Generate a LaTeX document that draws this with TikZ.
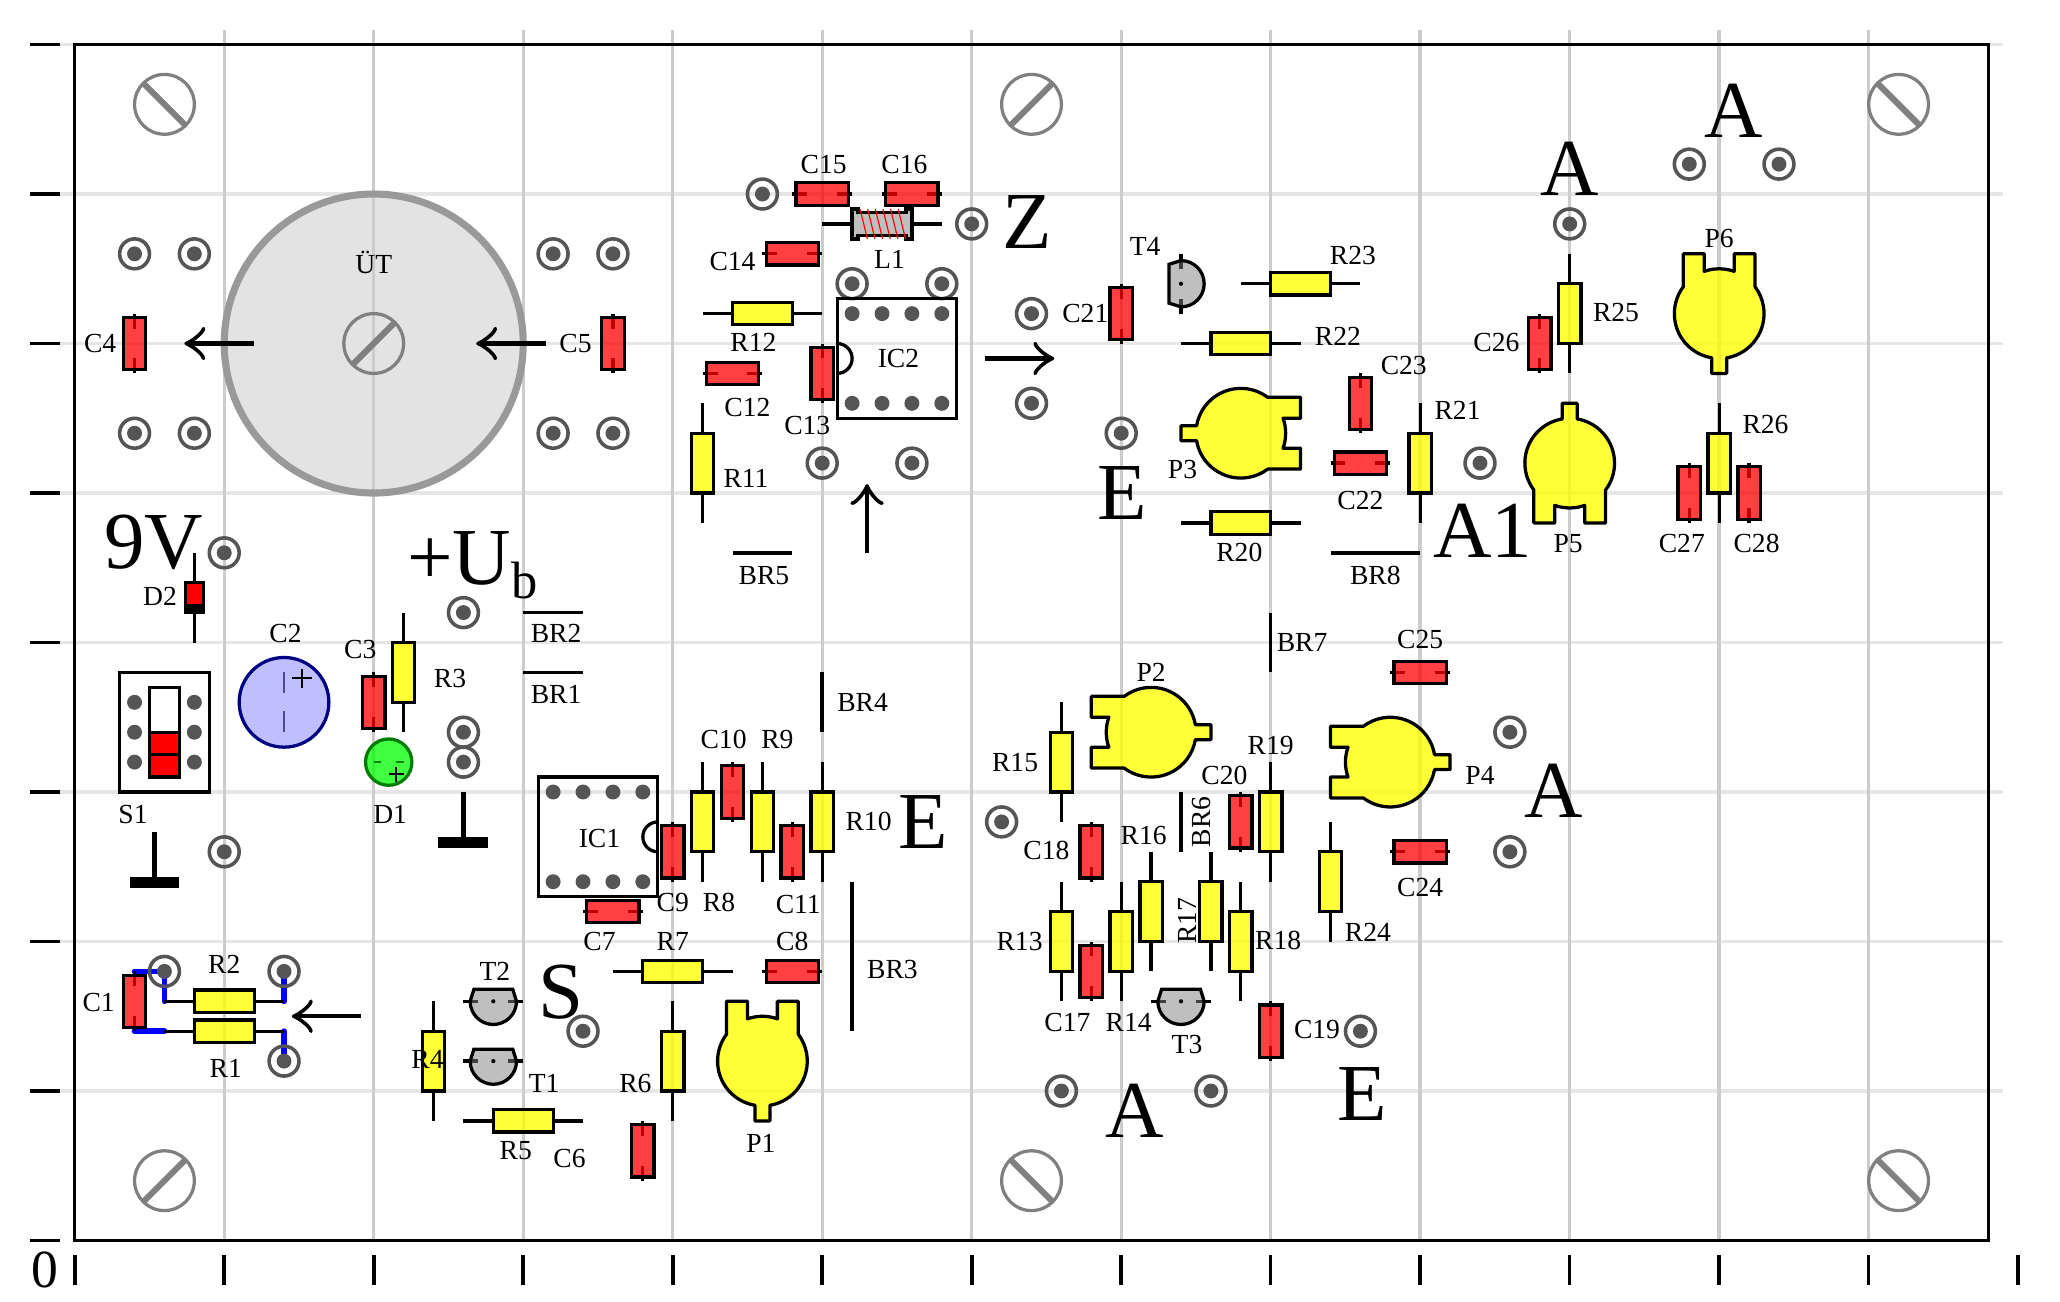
\documentclass[tikz,border=0pt]{standalone}
\usepackage{fontspec}
\setmainfont{Liberation Serif}
\usetikzlibrary{arrows.meta}
\definecolor{gridv}{HTML}{CCCCCC}
\definecolor{gridh}{HTML}{E6E6E6}
\definecolor{holecol}{HTML}{555555}
\definecolor{pureyellow}{RGB}{255,255,0}
\definecolor{purered}{RGB}{255,0,0}
\tikzset{
  wire/.style={line width=.62pt,black},
  bodyline/.style={line width=.62pt,draw=black},
  lab/.style={inner sep=0pt,font=\fontsize{5.25}{6}\selectfont},
  big/.style={inner sep=0pt,font=\fontsize{15.4}{18}\selectfont},
  arrowline/.style={line width=.85pt,-{Classical TikZ Rightarrow[length=4pt,width=6.4pt]}},
  jumper/.style={line width=.68pt,black},
  bluewire/.style={line width=1.1pt,blue,line cap=round},
  groundstem/.style={line width=.95pt,black},
  groundbar/.style={fill=black,draw=none},
  capb/.pic={
    \draw[wire] (-.2,0)--(-.1,0) (.1,0)--(.2,0);
    \path[bodyline,fill=purered,fill opacity=.75] (-.175,-.075) rectangle (.175,.075);
  },
  resb/.pic={
    \draw[wire] (-.4,0)--(-.2,0) (.2,0)--(.4,0);
    \path[bodyline,fill=pureyellow,fill opacity=.78] (-.2,-.075) rectangle (.2,.075);
  },
  holeb/.pic={
    \draw[line width=.68pt,holecol] (0,0) circle (.1);
    \fill[holecol] (0,0) circle (.05);
  },
  screwb/.pic={
    \draw[line width=.62pt,gray] (0,0) circle (.2);
    \draw[line width=1.15pt,gray] (-.145,-.145)--(.145,.145);
  },
  potb/.pic={
    \path[bodyline,fill=pureyellow,fill opacity=.78,line join=round]
      (-.05,-.4)--(.05,-.4)--(.05,-.2958)
      arc[start angle=-80.41,end angle=36.87,radius=.3]
      --(.24,.4)--(.1,.4)--(.1,.2828)
      arc[start angle=70.53,end angle=109.47,radius=.3]
      --(-.1,.4)--(-.24,.4)--(-.24,.18)
      arc[start angle=143.13,end angle=260.41,radius=.3]--cycle;
  },
  tranb/.pic={
    \draw[wire] (-.2,0)--(-.1,0) (.1,0)--(.2,0);
    \path[bodyline,fill=gray,fill opacity=.5]
      (-.13,.08)--(.13,.08)--(.155,0)
      arc[start angle=0,end angle=-180,radius=.155]--cycle;
    \fill (0,0) circle (.014);
  },
  icdots/.pic={
    \foreach \dx in {-.3,-.1,.1,.3}{
      \fill[holecol] (\dx,.3) circle (.05);
      \fill[holecol] (\dx,-.3) circle (.05);
    }
  },
}
\begin{document}
\begin{tikzpicture}
\useasboundingbox (-.5,-.405) rectangle (13.28,8.298);
% grid
\foreach \y in {1,...,8} \draw[line width=.65pt,gridh] (-.1,\y)--(12.9,\y);
% transformer body
\path[fill=black!11] (2,6) circle (1);
\foreach \x in {1,...,12} \draw[line width=.65pt,gridv] (\x,0)--(\x,8.1);
\draw[line width=.62pt,black] (0,0) rectangle (12.8,8);
\foreach \x in {0,...,13} \draw[line width=.68pt] (\x,-.1)--(\x,-.3);
\foreach \y in {0,...,8} \draw[line width=.68pt] (-.1,\y)--(-.3,\y);
\node[inner sep=0pt,font=\fontsize{10.2}{11}\selectfont] (zero) at (-.2,-.2) {0};
\draw[line width=1.35pt,draw=black!40] (2,6) circle (1);
% blue wires
\draw[bluewire] (.4,1.8)--(.6,1.8)--(.6,1.6);
\draw[bluewire] (1.4,1.8)--(1.4,1.6);
\draw[bluewire] (.4,1.4)--(.6,1.4);
\draw[bluewire] (1.4,1.4)--(1.4,1.2);
% screws
\foreach \x/\y/\a in {.6/7.6/90,6.4/7.6/0,12.2/7.6/90,.6/.4/0,6.4/.4/90,12.2/.4/90,2/6/0}
  \pic[rotate=\a] at (\x,\y) {screwb};
% holes
\foreach \x/\y in {.4/6.6,.8/6.6,.4/5.4,.8/5.4,3.2/6.6,3.6/6.6,3.2/5.4,3.6/5.4,1/4.6,1/2.6,2.6/4.2,2.6/3.4,2.6/3.2,.6/1.8,1.4/1.8,1.4/1.2,3.4/1.4,4.6/7,6/6.8,5.2/6.4,5.8/6.4,6.4/6.2,6.4/5.6,5/5.2,5.6/5.2,7/5.4,10/6.8,10.8/7.2,11.4/7.2,9.4/5.2,9.6/3.4,9.6/2.6,6.2/2.8,6.6/1,7.6/1,8.6/1.4}
  \pic at (\x,\y) {holeb};
% capacitors
\foreach \x/\y/\a in {.4/1.6/90,2/3.6/90,.4/6/90,3.6/6/90,3.8/.6/90,3.6/2.2/0,4.8/1.8/0,4/2.6/90,4.4/3/90,4.8/2.6/90,4.4/5.8/0,5/5.8/90,4.8/6.6/0,5/7/0,5.6/7/0,6.8/1.8/90,6.8/2.6/90,8/1.4/90,7.8/2.8/90,7/6.2/90,8.6/5.2/0,8.6/5.6/90,9/2.6/0,9/3.8/0,9.8/6/90,10.8/5/90,11.2/5/90}
  \pic[rotate=\a] at (\x,\y) {capb};
% resistors
\foreach \x/\y/\a in {1/1.4/0,1/1.6/0,2.2/3.8/90,2.4/1.2/90,3/.8/0,4/1.2/90,4/1.8/0,4.2/2.8/90,4.6/2.8/90,5/2.8/90,4.2/5.2/90,4.6/6.2/0,6.6/2/90,7/2/90,6.6/3.2/90,7.2/2.2/90,7.6/2.2/90,7.8/2/90,8/2.8/90,7.8/4.8/0,9/5.2/90,7.8/6/0,8.2/6.4/0,8.4/2.4/90,10/6.2/90,11/5.2/90}
  \pic[rotate=\a] at (\x,\y) {resb};
% potentiometers
\foreach \x/\y/\a in {4.6/1.2/0,7.2/3.4/90,8.8/3.2/90,7.8/5.4/-90,10/5.2/180,11/6.2/0}
  \pic[rotate=\a] at (\x,\y) {potb};
% transistors
\foreach \x/\y/\a in {2.8/1.6/0,2.8/1.2/0,7.4/1.6/0,7.4/6.4/90}
  \pic[rotate=\a] at (\x,\y) {tranb};
% jumpers
\draw[jumper] (3,3.8)--(3.4,3.8);
\draw[jumper] (3,4.2)--(3.4,4.2);
\draw[jumper] (5.2,2.4)--(5.2,1.4);
\draw[jumper] (5,3.8)--(5,3.4);
\draw[jumper] (4.4,4.6)--(4.8,4.6);
\draw[jumper] (7.4,3)--(7.4,2.6);
\draw[jumper] (8,4.2)--(8,3.8);
\draw[jumper] (8.4,4.6)--(9,4.6);
% IC2
\draw[bodyline] (5.1,5.5) rectangle (5.9,6.3);
\draw[bodyline] (5.1,6) arc[start angle=90,end angle=-90,radius=.1];
\pic at (5.5,5.9) {icdots};
% IC1
\draw[bodyline] (3.1,2.3) rectangle (3.9,3.1);
\draw[bodyline] (3.9,2.8) arc[start angle=90,end angle=270,radius=.1];
\pic at (3.5,2.7) {icdots};
% L1
\draw[wire] (5,6.8)--(5.2,6.8) (5.6,6.8)--(5.8,6.8);
\path[bodyline,fill=gray,fill opacity=.5]
  (5.2,6.7)--(5.2,6.9)--(5.24,6.9)--(5.24,6.875)--(5.56,6.875)--(5.56,6.9)--(5.6,6.9)--(5.6,6.7)--(5.56,6.7)--(5.56,6.725)--(5.24,6.725)--(5.24,6.7)--cycle;
\foreach \i in {0,...,5}
  \draw[line width=.22pt,purered] ({5.253+.051*\i},6.9)--({5.302+.051*\i},6.7);
% D2
\draw[wire] (.8,4.6)--(.8,4)
;
\path[bodyline,fill=purered] (.74,4.2) rectangle (.86,4.4);
\fill (.74,4.2) rectangle (.86,4.26);
% D1
\draw[line width=.62pt,draw=black!30!green!70!black,fill=green,fill opacity=.75] (2.1,3.2) circle (.155);
\draw[line width=.5pt,green!50!black] (2,3.2)--(2.05,3.2) (2.15,3.2)--(2.2,3.2);
\draw[line width=.35pt] (2.1,3.12)--(2.2,3.12) (2.15,3.07)--(2.15,3.17);
% C2
\draw[line width=.62pt,draw=blue!50!black,fill=blue,fill opacity=.25] (1.4,3.6) circle (.3);
\draw[line width=.55pt,blue!35!black!70!white] (1.4,3.8)--(1.4,3.66) (1.4,3.54)--(1.4,3.4);
\draw[line width=.4pt] (1.455,3.76)--(1.585,3.76) (1.52,3.695)--(1.52,3.825);
% S1
\draw[bodyline] (.3,3) rectangle (.9,3.8);
\draw[bodyline] (.5,3.1) rectangle (.7,3.7);
\path[bodyline,fill=purered] (.5,3.1) rectangle (.7,3.4);
\draw[bodyline] (.5,3.25)--(.7,3.25);
\foreach \x in {.4,.8} \foreach \y in {3.2,3.4,3.6} \fill[holecol] (\x,\y) circle (.05);
% grounds
\draw[groundstem] (.533,2.733)--(.533,2.4);
\path[groundbar] (.367,2.36) rectangle (.7,2.43);
\draw[groundstem] (2.6,3)--(2.6,2.667);
\path[groundbar] (2.433,2.627) rectangle (2.767,2.697);
% arrows
\coordinate (a1s) at (1.2,6); \coordinate (a1e) at (.733,6);
\coordinate (a2s) at (3.15,6); \coordinate (a2e) at (2.685,6);
\coordinate (a3s) at (1.915,1.5); \coordinate (a3e) at (1.452,1.5);
\coordinate (a4s) at (6.087,5.9); \coordinate (a4e) at (6.553,5.9);
\coordinate (a5s) at (5.3,4.6); \coordinate (a5e) at (5.3,5.06);
\foreach \i in {1,...,5} \draw[arrowline] (a\i s)--(a\i e);
% small labels
\foreach \n/\x/\y in {C1/.16/1.59,R1/1.01/1.15,R2/1/1.85,C2/1.41/4.06,C3/1.91/3.95,D2/.57/4.31,R3/2.51/3.76,C4/.17/6,C5/3.35/6,S1/.39/2.85,D1/2.11/2.85,IC1/3.51/2.69,IC2/5.51/5.9,C7/3.51/2,C9/4/2.26,R8/4.31/2.26,C11/4.84/2.25,C10/4.34/3.35,R9/4.7/3.35,R10/5.31/2.8,R7/4/2,C8/4.8/2,R6/3.75/1.05,R4/2.36/1.21,R5/2.95/.6,C6/3.31/.55,P1/4.59/.65,C15/5.01/7.2,C16/5.55/7.2,C14/4.4/6.55,L1/5.45/6.56,R12/4.54/6.01,C12/4.5/5.57,C13/4.9/5.45,R11/4.49/5.1,C21/6.76/6.2,T4/7.16/6.65,R23/8.55/6.59,R22/8.45/6.05,R21/9.25/5.55,C23/8.89/5.85,C22/8.6/4.95,P3/7.41/5.16,R20/7.79/4.6,C26/9.51/6.01,R25/10.31/6.21,R26/11.31/5.46,P6/11/6.7,P5/9.99/4.66,C27/10.75/4.66,C28/11.25/4.66,P2/7.2/3.8,R15/6.29/3.2,C18/6.5/2.61,R13/6.32/2,R16/7.15/2.71,C20/7.69/3.11,R19/8/3.31,R18/8.05/2.01,R24/8.65/2.06,C17/6.64/1.46,R14/7.05/1.46,T3/7.44/1.31,C19/8.31/1.41,C25/9/4.02,C24/9/2.36,P4/9.4/3.11,T1/3.14/1.05,T2/2.81/1.8,BR1/3.22/3.65,BR2/3.22/4.06,BR3/5.47/1.81,BR4/5.27/3.6,BR5/4.61/4.45,BR7/8.21/4,BR8/8.7/4.45}
  \node[lab] (lbl\n) at (\x,\y) {\n};
\node[lab] (lblUT) at (2,6.54) {ÜT};
\node[lab,rotate=90] (lblBRsix) at (7.54,2.8) {BR6};
\node[lab,rotate=90] (lblRseventeen) at (7.44,2.14) {R17};
% large labels
\node[big] (nineV) at (.53,4.67) {9V};
\node[big,anchor=base] (plusU) at (2.66,4.39) {+U\raisebox{-2.8pt}{\fontsize{10}{11}\selectfont b}};
\node[big] (bigS) at (3.25,1.66) {S};
\node[big] (bigZ) at (6.37,6.81) {Z};
\node[big] (bigEa) at (5.675,2.8) {E};
\node[big] (bigEb) at (7.01,5) {E};
\node[big] (bigEc) at (8.615,.98) {E};
\node[big] (bigAone) at (9.42,4.75) {A1};
\node[big] (bigAa) at (11.1,7.56) {A};
\node[big] (bigAb) at (10,7.17) {A};
\node[big] (bigAc) at (9.89,3.01) {A};
\node[big] (bigAd) at (7.09,.87) {A};
\end{tikzpicture}
\end{document}
